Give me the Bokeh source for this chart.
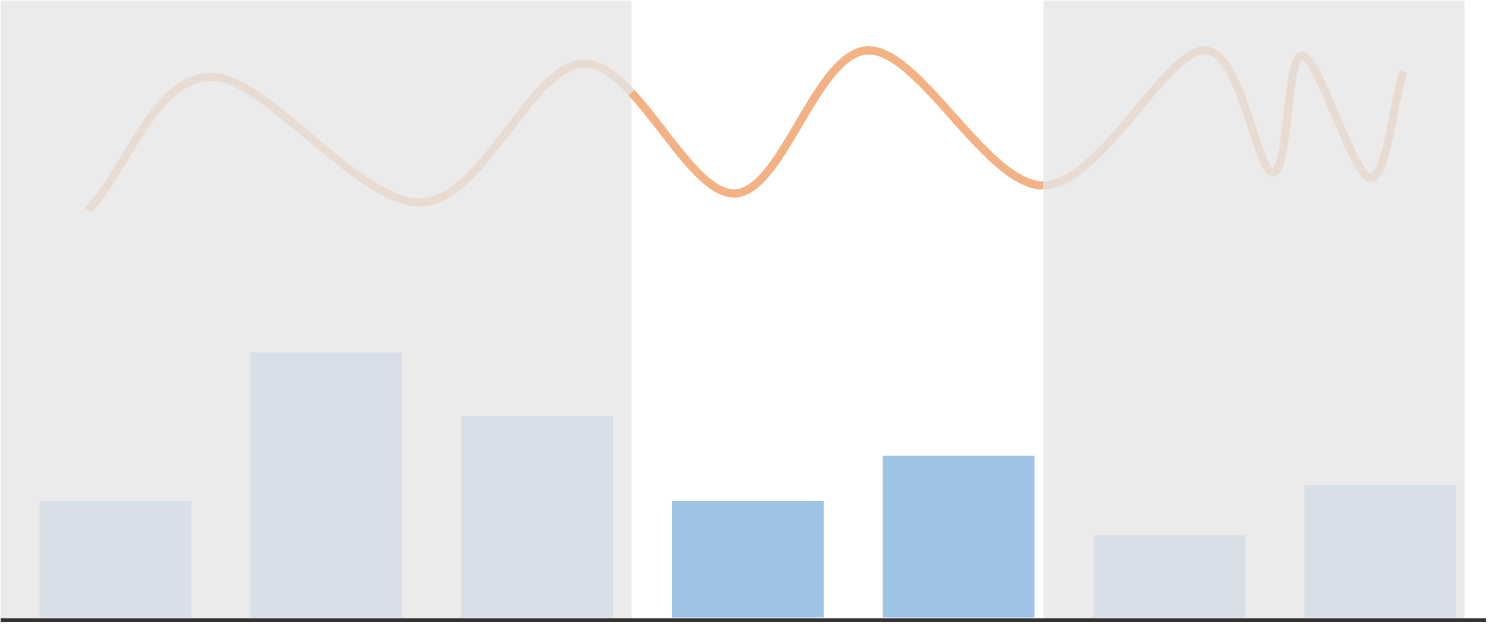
import numpy as np
from bokeh.plotting import figure
from bokeh.embed import file_html
from bokeh.resources import INLINE

# bar data
bar_x = [0, 1, 2, 3, 4, 5, 6]
bar_values = [44, 100, 76, 44, 61, 31, 50]

# line data (x in bar-index units)
line_x = [-0.13, 0.45, 1.45, 2.22, 2.94, 3.57, 4.40, 5.16, 5.49, 5.63, 5.95, 6.11]
line_y = [153.6, 204, 156.6, 209, 160, 214, 163, 214, 168, 212, 166, 206]

# selected range
sel_start, sel_end = 2.448, 4.402

BAR_SEL = "#9fc3e5"
BAR_OFF = "#d8dfe8"
LINE_SEL = "#f4b183"
LINE_OFF = "#e8dbd2"


def smooth(xs, ys, n=40):
    # catmull-rom rendering of the line
    xs, ys = np.asarray(xs, float), np.asarray(ys, float)
    px = np.concatenate([[2 * xs[0] - xs[1]], xs, [2 * xs[-1] - xs[-2]]])
    py = np.concatenate([[2 * ys[0] - ys[1]], ys, [2 * ys[-1] - ys[-2]]])
    ox, oy = [], []
    t = np.linspace(0, 1, n)
    for i in range(1, len(px) - 2):
        for arr, out in ((px, ox), (py, oy)):
            p0, p1, p2, p3 = arr[i - 1], arr[i], arr[i + 1], arr[i + 2]
            out.extend(0.5 * (2 * p1 + (-p0 + p2) * t + (2 * p0 - 5 * p1 + 4 * p2 - p3) * t ** 2
                              + (-p0 + 3 * p1 - 3 * p2 + p3) * t ** 3))
    return np.array(ox), np.array(oy)


x0, x1 = -0.5455, 6.504
p = figure(width=1486, height=622, x_range=(x0, x1), y_range=(-1.89, 232.8),
           output_backend="svg", toolbar_location=None, min_border=0)
p.axis.visible = False
p.grid.visible = False
p.outline_line_color = None

p.quad(left=[x0, sel_end], right=[sel_start, 6.4], bottom=[-1.89, -1.89], top=[232.8, 232.8],
       color="#ebebeb", line_color=None)

colors = [BAR_SEL if sel_start <= x <= sel_end else BAR_OFF for x in bar_x]
p.vbar(x=bar_x, top=bar_values, width=0.72, color=colors, line_color=None)

sx, sy = smooth(line_x, line_y)
p.line(sx, sy, line_color=LINE_OFF, line_width=8)
mask = (sx >= sel_start) & (sx <= sel_end)
p.line(sx[mask], sy[mask], line_color=LINE_SEL, line_width=8)

p.segment(x0=[x0], x1=[x1], y0=[-1.2], y1=[-1.2], line_color="#333333", line_width=5)

open("out.html", "w").write(file_html(p, INLINE))
